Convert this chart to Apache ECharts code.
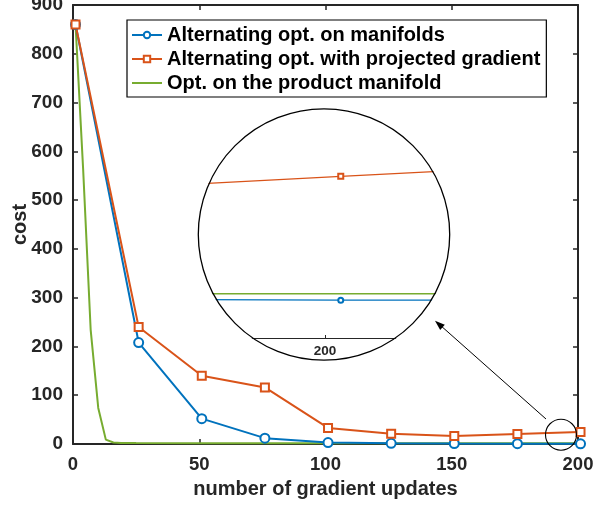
<!DOCTYPE html>
<html><head><meta charset="utf-8">
<script src="https://cdn.jsdelivr.net/npm/echarts@6/dist/echarts.min.js"></script>
<style>html,body{margin:0;padding:0;background:#fff}#c{width:595px;height:508px}</style>
</head><body><div id="c"></div>
<script>
// ---- data ----
const iterations = [1, 26, 51, 76, 101, 126, 151, 176, 201, 226];
const altManifolds = [860, 208, 52, 12, 3, 1.5, 1.0, 0.7, 0.4, 0.35];
const altProjected = [860, 240, 140, 116, 33, 21, 16.4, 20.5, 24.6, 28.6];
const productIter = [1, 4, 7, 10, 13, 16, 19, 25, 50, 100, 150, 201, 226];
const productManifold = [860, 565, 234, 74, 9, 3, 2, 1.8, 1.7, 1.66, 1.65, 1.65, 1.65];
const seriesNames = ['Alternating opt. on manifolds', 'Alternating opt. with projected gradient', 'Opt. on the product manifold'];
const insetTickLabels = ['200'];

const BLUE = '#0072BD', ORANGE = '#D95319', GREEN = '#77AC30', AX = '#262626';
const FONT = 'Liberation Sans, Arial, sans-serif';

function pairs(xs, ys, upto) {
  const out = [];
  for (let i = 0; i < xs.length; i++) { if (upto == null || xs[i] <= upto) out.push([xs[i], ys[i]]); }
  return out;
}

const chart = echarts.init(document.getElementById('c'), null, {renderer: 'canvas'});

const mainAxisCommon = {
  axisLine: {show: true, onZero: false, lineStyle: {color: AX, width: 2}},
  axisTick: {show: true, inside: true, length: 5, lineStyle: {color: AX, width: 1.5}},
  splitLine: {show: false}
};

const option = {
  animation: false,
  backgroundColor: '#fff',
  textStyle: {fontFamily: FONT},
  grid: [
    {left: 73, right: 17, top: 5, bottom: 64, containLabel: false, outerBoundsMode: 'none'},
    {left: 199, width: 252, top: 160, height: 178, containLabel: false, outerBoundsMode: 'none'}
  ],
  legend: {
    data: [
      {name: seriesNames[0]},
      {name: seriesNames[1]},
      {name: seriesNames[2], icon: 'path://M0,0L30,0L30,2L0,2Z', itemStyle: {color: GREEN}}
    ],
    orient: 'vertical',
    left: 127, top: 20,
    padding: [4, 6, 3, 4],
    itemGap: 2,
    itemWidth: 30, itemHeight: 8,
    borderColor: '#000', borderWidth: 1.2,
    backgroundColor: '#fff',
    z: 8,
    selectedMode: false,
    textStyle: {fontFamily: FONT, fontWeight: 'bold', fontSize: 20, color: '#000', lineHeight: 22}
  },
  xAxis: [
    Object.assign({}, mainAxisCommon, {
      gridIndex: 0, type: 'value', position: 'bottom', min: 0, max: 200, interval: 50,
      axisLabel: {fontFamily: FONT, fontWeight: 'bold', fontSize: 18.5, color: AX, margin: 11},
      name: 'number of gradient updates', nameLocation: 'middle', nameGap: 35, nameMoveOverlap: false,
      nameTextStyle: {fontFamily: FONT, fontWeight: 'bold', fontSize: 20, color: AX}
    }),
    Object.assign({}, mainAxisCommon, {
      gridIndex: 0, type: 'value', position: 'top', min: 0, max: 200, interval: 50,
      axisLabel: {show: false}
    }),
    {
      gridIndex: 1, type: 'value', position: 'bottom', min: 192, max: 208, interval: 8, z: 1,
      axisLine: {show: true, onZero: false, lineStyle: {color: AX, width: 1.2}},
      axisTick: {show: true, inside: true, length: 3, lineStyle: {color: AX, width: 1}},
      splitLine: {show: false},
      axisLabel: {fontFamily: FONT, fontWeight: 'bold', fontSize: 13.5, color: AX, margin: 6,
        formatter: v => insetTickLabels.indexOf(String(v)) >= 0 ? String(v) : ''}
    }
  ],
  yAxis: [
    Object.assign({}, mainAxisCommon, {
      gridIndex: 0, type: 'value', position: 'left', min: 0, max: 900, interval: 100,
      axisLabel: {fontFamily: FONT, fontWeight: 'bold', fontSize: 19, color: AX, margin: 10},
      name: 'cost', nameLocation: 'middle', nameGap: 43, nameRotate: 90, nameMoveOverlap: false,
      nameTextStyle: {fontFamily: FONT, fontWeight: 'bold', fontSize: 20, color: AX}
    }),
    Object.assign({}, mainAxisCommon, {
      gridIndex: 0, type: 'value', position: 'right', min: 0, max: 900, interval: 100,
      axisLabel: {show: false}
    }),
    {gridIndex: 1, type: 'value', min: -7, max: 27.8, show: false}
  ],
  series: [
    {
      name: seriesNames[0], type: 'line', xAxisIndex: 0, yAxisIndex: 0, z: 4, clip: false,
      data: pairs(iterations, altManifolds, 201),
      symbol: 'emptyCircle', symbolSize: 9,
      lineStyle: {color: BLUE, width: 2}, itemStyle: {color: BLUE, borderWidth: 1.8}
    },
    {
      name: seriesNames[1], type: 'line', xAxisIndex: 0, yAxisIndex: 0, z: 4, clip: false,
      data: pairs(iterations, altProjected, 201),
      symbol: 'emptyRect', symbolSize: 8,
      lineStyle: {color: ORANGE, width: 2}, itemStyle: {color: ORANGE, borderWidth: 1.8}
    },
    {
      name: seriesNames[2], type: 'line', xAxisIndex: 0, yAxisIndex: 0, z: 3, clip: false,
      data: pairs(productIter, productManifold, 201),
      symbol: 'none',
      lineStyle: {color: GREEN, width: 2}, itemStyle: {color: GREEN}
    },
    {
      name: seriesNames[0], type: 'line', xAxisIndex: 2, yAxisIndex: 2, z: 1, clip: true,
      data: pairs(iterations, altManifolds),
      symbol: 'emptyCircle', symbolSize: 5,
      lineStyle: {color: BLUE, width: 1.2}, itemStyle: {color: BLUE, borderWidth: 1}
    },
    {
      name: seriesNames[1], type: 'line', xAxisIndex: 2, yAxisIndex: 2, z: 1, clip: true,
      data: pairs(iterations, altProjected),
      symbol: 'emptyRect', symbolSize: 5,
      lineStyle: {color: ORANGE, width: 1.2}, itemStyle: {color: ORANGE, borderWidth: 1}
    },
    {
      name: seriesNames[2], type: 'line', xAxisIndex: 2, yAxisIndex: 2, z: 1, clip: true,
      data: pairs(productIter, productManifold),
      symbol: 'none',
      lineStyle: {color: GREEN, width: 1.5}, itemStyle: {color: GREEN}
    }
  ],
  graphic: [
    // white ring masking the inset outside the magnifier circle
    {type: 'circle', z: 2, silent: true, shape: {cx: 324, cy: 234.5, r: 148.5},
      style: {fill: 'none', stroke: '#fff', lineWidth: 44}},
    {type: 'circle', z: 10, silent: true, shape: {cx: 324, cy: 234.5, r: 125.7},
      style: {fill: 'none', stroke: '#000', lineWidth: 1.3}},
    {type: 'circle', z: 10, silent: true, shape: {cx: 561, cy: 434.7, r: 15.5},
      style: {fill: 'none', stroke: '#000', lineWidth: 1.1}},
    {type: 'line', z: 10, silent: true, shape: {x1: 546, y1: 419, x2: 440, y2: 325},
      style: {stroke: '#000', lineWidth: 1}},
    {type: 'polygon', z: 10, silent: true, shape: {points: [[435, 320.7], [444.8, 324.7], [440.2, 329.9]]},
      style: {fill: '#000'}}
  ]
};
chart.setOption(option);
</script></body></html>
